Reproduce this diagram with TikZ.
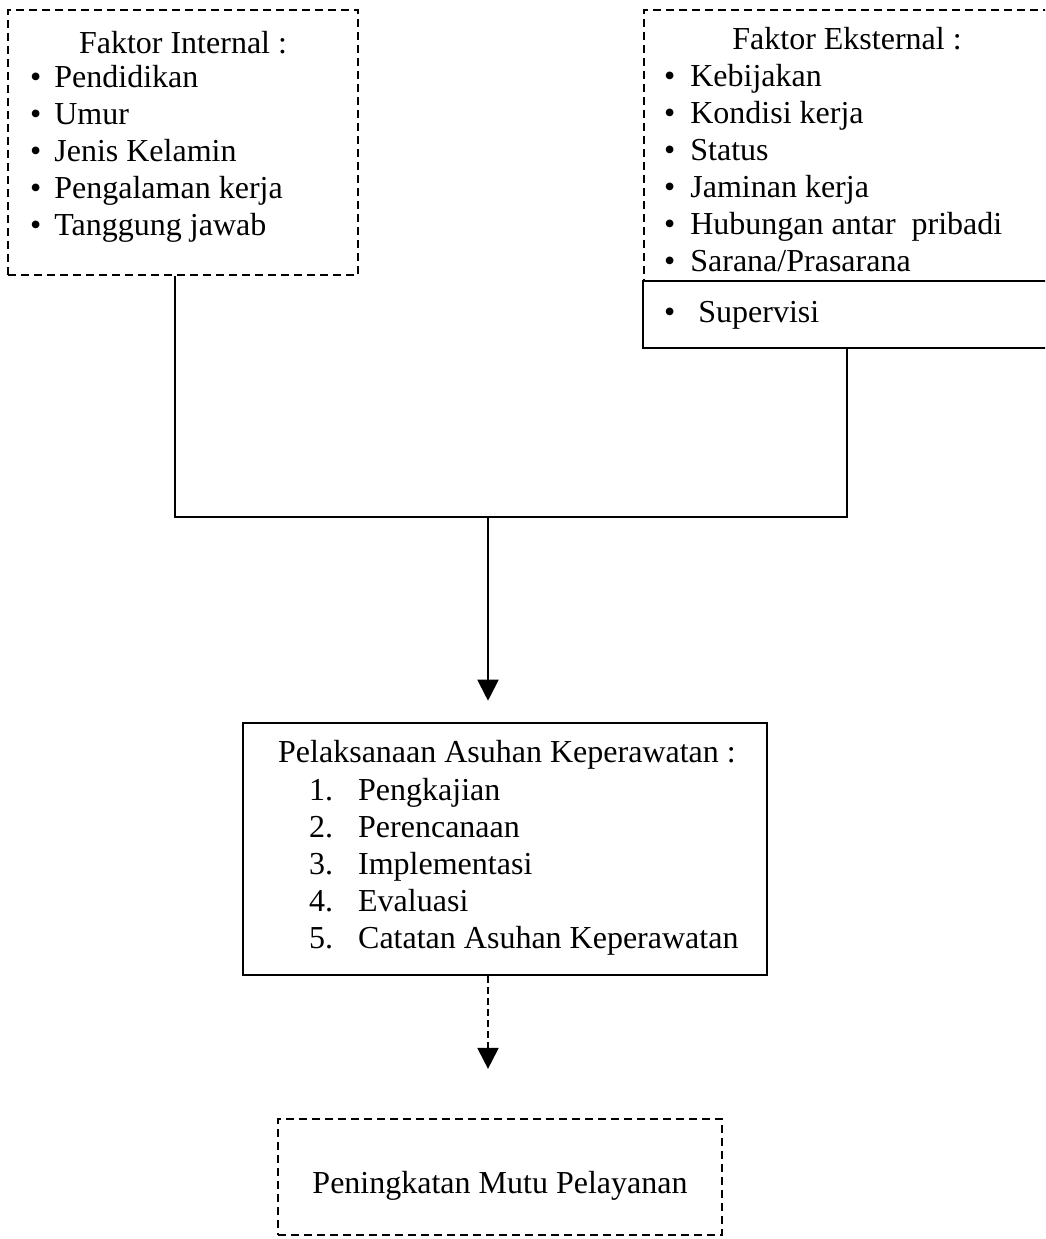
\documentclass[tikz,border=0pt]{standalone}
\usepackage{fontspec}
\setmainfont{Liberation Serif}
\usetikzlibrary{arrows.meta}

\begin{document}
\begin{tikzpicture}[x=1pt,y=-1pt,
  dbox/.style={draw,line width=2.2pt,dash pattern=on 8pt off 5pt,inner sep=0pt},
  sbox/.style={draw,line width=2.6pt,inner sep=0pt},
  txt/.style={inner sep=0pt,font=\fontsize{32}{37}\selectfont},
  line/.style={line width=2pt},
  arrow/.style={line width=2pt,-{Triangle[width=21pt,length=21pt]}}]
  \useasboundingbox (0,0) rectangle (1045,1239);
  \clip (0,0) rectangle (1045,1239);
  % faktor internal
  \node[dbox,minimum width=350pt,minimum height=265pt] (internal) at (183,142.5) {};
  \node[txt,anchor=base] (internalT) at (183,54) {Faktor Internal :};
  \node[txt,anchor=north west] (internalL) at (30,61.1) {\begin{tabular}{@{}l@{\hspace{13pt}}l@{}}
    \textbullet & Pendidikan\\
    \textbullet & Umur\\
    \textbullet & Jenis Kelamin\\
    \textbullet & Pengalaman kerja\\
    \textbullet & Tanggung jawab
  \end{tabular}};
  % faktor eksternal
  \node[dbox,minimum width=406pt,minimum height=271pt] (eksternal) at (847,145.5) {};
  \node[txt,anchor=base] (eksternalT) at (847,50) {Faktor Eksternal :};
  \node[txt,anchor=north west] (eksternalL) at (664,60.1) {\begin{tabular}{@{}l@{\hspace{15pt}}l@{}}
    \textbullet & Kebijakan\\
    \textbullet & Kondisi kerja\\
    \textbullet & Status\\
    \textbullet & Jaminan kerja\\
    \textbullet & Hubungan antar\ \ pribadi\\
    \textbullet & Sarana/Prasarana
  \end{tabular}};
  \node[sbox,fill=white,minimum width=407pt,minimum height=67pt] (supervisi) at (846.5,314.5) {};
  \node[txt,anchor=base west] (supervisiT) at (664,322) {\textbullet\hspace{23pt}Supervisi};
  % asuhan keperawatan
  \node[sbox,minimum width=524pt,minimum height=252pt] (pelaksanaan) at (505,849) {};
  \node[txt,anchor=base west] (pelaksanaanT) at (278,762) {Pelaksanaan Asuhan Keperawatan :};
  \node[txt,anchor=north west] (pelaksanaanL) at (309,774.1) {\begin{tabular}{@{}r@{\hspace{25pt}}l@{}}
    1. & Pengkajian\\
    2. & Perencanaan\\
    3. & Implementasi\\
    4. & Evaluasi\\
    5. & Catatan Asuhan Keperawatan
  \end{tabular}};
  % mutu
  \node[dbox,minimum width=444pt,minimum height=116pt] (mutu) at (500,1177) {};
  \node[txt,anchor=base] (mutuT) at (500,1193) {Peningkatan Mutu Pelayanan};
  % connectors
  \coordinate (hub) at (488,517);
  \draw[line] ([xshift=-8pt]internal.south) |- (hub) -| (supervisi.south);
  \draw[arrow,shorten >=21pt] (hub) -- (hub |- pelaksanaan.north);
  \draw[arrow,dash pattern=on 7pt off 4pt,shorten >=49pt] (pelaksanaan.south -| hub) -- (mutu.north -| hub);
\end{tikzpicture}
\end{document}
